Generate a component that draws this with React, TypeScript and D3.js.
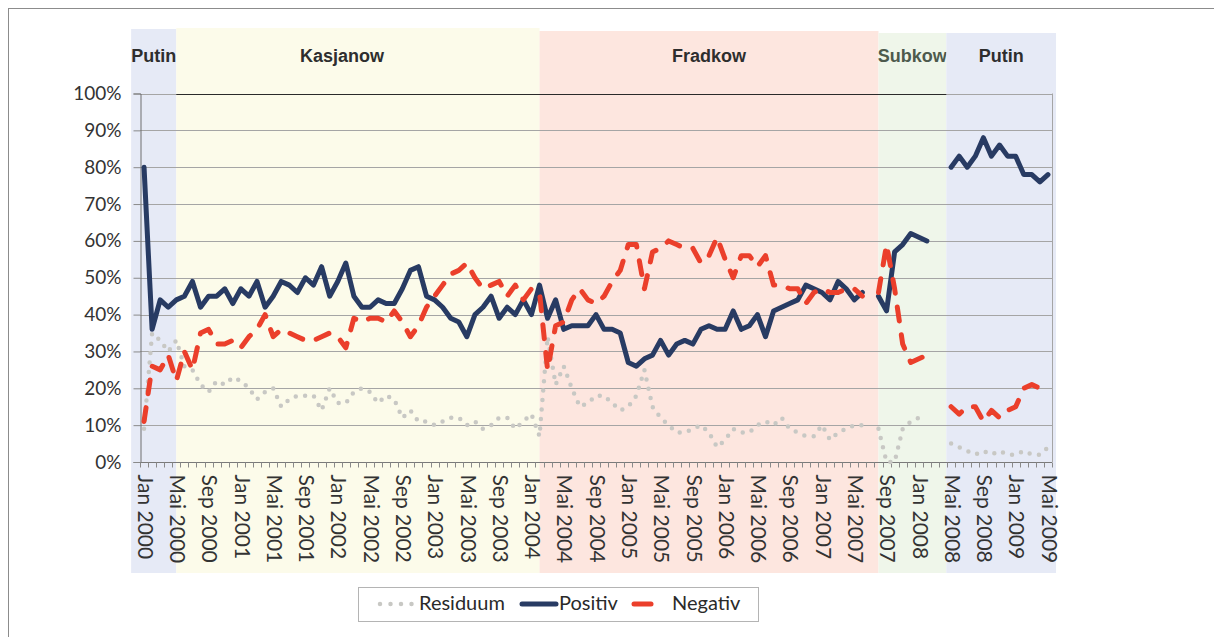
import React, { useEffect, useRef } from "react";
import * as d3 from "d3";

// months Jan 2000 .. Mai 2009
const monthNames = ["Jan", "Feb", "Mär", "Apr", "Mai", "Jun", "Jul", "Aug", "Sep", "Okt", "Nov", "Dez"];
const months: string[] = [];
for (let y = 2000; y <= 2009; y++) {
  for (let m = 0; m < 12; m++) {
    if (y === 2009 && m > 4) break;
    months.push(monthNames[m] + " " + y);
  }
}
const tickLabels = months.filter((_, i) => i % 4 === 0);

const yTicks = [0, 10, 20, 30, 40, 50, 60, 70, 80, 90, 100];

// government periods, edges in month units (0 = Jan 2000)
const periodNames = ["Putin", "Kasjanow", "Fradkow", "Subkow", "Putin"];
const periodEdges = [-1.6, 4, 49, 91, 99.4, 113];
const periodColors = ["#e6eaf6", "#fcfbea", "#fde6df", "#eff6ea", "#e6eaf6"];

const positiv: (number | null)[] = [
  80, 36, 44, 42, 44, 45, 49, 42, 45, 45, 47, 43,
  47, 45, 49, 42, 45, 49, 48, 46, 50, 48, 53, 45,
  49, 54, 45, 42, 42, 44, 43, 43, 47, 52, 53, 45,
  44, 42, 39, 38, 34, 40, 42, 45, 39, 42, 40, 44,
  40, 48, 39, 44, 36, 37, 37, 37, 40, 36, 36, 35,
  27, 26, 28, 29, 33, 29, 32, 33, 32, 36, 37, 36,
  36, 41, 36, 37, 40, 34, 41, 42, 43, 44, 48, 47,
  46, 44, 49, 47, 44, 46, null, 45, 41, 57, 59, 62,
  61, 60, null, null, 80, 83, 80, 83, 88, 83, 86, 83,
  83, 78, 78, 76, 78,
];

const negativ: (number | null)[] = [
  11, 26, 25, 29, 22, 30, 25, 35, 36, 32, 32, 33,
  31, 34, 36, 40, 34, 36, 35, 34, 33, 33, 34, 35,
  34, 31, 39, 38, 39, 39, 38, 41, 38, 34, 37, 42,
  45, 48, 51, 52, 54, 50, 47, 48, 49, 45, 48, 44,
  47, 46, 25, 37, 38, 44, 47, 44, 43, 45, 49, 52,
  59, 59, 47, 57, 58, 60, 59, 58, 58, 54, 56, 61,
  55, 50, 56, 56, 53, 56, 48, 48, 47, 47, 43, 46,
  47, 46, 46, 47, 47, 45, null, 46, 59, 47, 32, 27,
  28, 29, null, null, 15, 13, 15, 15, 11, 14, 12, 14,
  15, 20, 21, 20, 18,
];

const residuum: (number | null)[] = [
  9, 35, 33, 30, 33, 26, 25, 21, 19, 22, 21, 23,
  22, 20, 17, 19, 20, 15, 17, 18, 18, 18, 14, 20,
  16, 16, 19, 20, 19, 16, 18, 17, 12, 14, 11, 11,
  10, 11, 12, 12, 10, 11, 9, 10, 12, 12, 9, 11,
  13, 7, 34, 21, 26, 20, 15, 16, 18, 18, 16, 14,
  15, 18, 25, 15, 12, 10, 8, 8, 9, 10, 8, 4,
  6, 9, 8, 8, 10, 11, 10, 12, 9, 8, 7, 7,
  10, 6, 8, 9, 10, 10, null, 9, 0, 0, 9, 11,
  12, 12, null, null, 5, 4, 3, 2, 3, 2, 3, 2,
  2, 3, 2, 2, 4,
];

const font = "Lato, 'Open Sans', sans-serif";

export default function App() {
  const ref = useRef<SVGSVGElement>(null);

  useEffect(() => {
    const svg = d3.select(ref.current);
    svg.selectAll("*").remove();

    const left = 140, right = 1052, top = 93.5, bottom = 462;

    const x = d3.scaleBand<string>().domain(months).range([left, right]).padding(0);
    const bw = x.bandwidth();
    const cx = (i: number) => (x(months[0]) as number) + bw / 2 + i * bw;
    const y = d3.scaleLinear().domain([0, 100]).range([bottom, top]);

    // outer frame
    svg.append("rect")
      .attr("x", 8.5).attr("y", 8.5).attr("width", 1300).attr("height", 700)
      .attr("fill", "none").attr("stroke", "#8c8c8c");

    // period backgrounds
    const bandTop = [29, 28, 31, 33, 33];
    periodNames.forEach((name, k) => {
      const x0 = cx(periodEdges[k]);
      const x1 = cx(periodEdges[k + 1]);
      svg.append("rect")
        .attr("x", x0).attr("y", bandTop[k])
        .attr("width", x1 - x0).attr("height", 573 - bandTop[k])
        .attr("fill", periodColors[k]);
      svg.append("text")
        .attr("x", (x0 + x1) / 2 + (k === 1 ? -16 : 0))
        .attr("y", 57)
        .attr("text-anchor", "middle")
        .attr("dominant-baseline", "middle")
        .attr("font-family", "'Liberation Sans Narrow', 'Liberation Sans', sans-serif")
        .attr("font-weight", "bold")
        .attr("font-size", 18)
        .attr("fill", k === 3 ? "#4d5a4d" : "#2e2e2e")
        .text(name);
    });

    // gridlines
    svg.append("g")
      .selectAll("line")
      .data(yTicks)
      .join("line")
      .attr("x1", left).attr("x2", right)
      .attr("y1", d => Math.round(y(d)) + 0.5).attr("y2", d => Math.round(y(d)) + 0.5)
      .attr("stroke", "#a5a5a5").attr("stroke-width", 1.2);

    svg.append("line")
      .attr("x1", cx(periodEdges[1])).attr("x2", cx(periodEdges[4]))
      .attr("y1", Math.round(y(100)) + 0.5).attr("y2", Math.round(y(100)) + 0.5)
      .attr("stroke", "#2a2a2a").attr("stroke-width", 1.2);

    // right border
    svg.append("line")
      .attr("x1", right + 0.5).attr("x2", right + 0.5)
      .attr("y1", y(100)).attr("y2", bottom)
      .attr("stroke", "#a5a5a5");

    // y axis
    const yAxis = svg.append("g")
      .attr("transform", `translate(${left + 0.5},0)`)
      .call(d3.axisLeft(y).tickValues(yTicks).tickSize(7).tickPadding(12).tickFormat(d => d + "%"));
    yAxis.select(".domain").attr("stroke", "#6e6e6e");
    yAxis.selectAll(".tick line").attr("stroke", "#8a8a8a");
    yAxis.selectAll("text")
      .attr("font-family", font).attr("font-size", 19).attr("fill", "#333");

    // x axis with monthly minor ticks
    const xAxis = svg.append("g")
      .attr("transform", `translate(0,${Math.round(bottom) + 0.5})`);
    xAxis.append("line")
      .attr("x1", left).attr("x2", right)
      .attr("stroke", "#7a7a7a");
    xAxis.selectAll("line.tk")
      .data(d3.range(months.length + 1))
      .join("line")
      .attr("class", "tk")
      .attr("x1", i => Math.round(left + i * bw) + 0.5)
      .attr("x2", i => Math.round(left + i * bw) + 0.5)
      .attr("y1", 0).attr("y2", 5)
      .attr("stroke", "#8a8a8a");
    xAxis.selectAll("text")
      .data(tickLabels)
      .join("text")
      .attr("transform", d => `translate(${(x(d) as number) + bw / 2 - 1},12) rotate(90)`)
      .attr("dominant-baseline", "middle")
      .attr("font-family", font).attr("font-size", 21)
      .attr("fill", "#333")
      .text(d => d);

    // series
    const line = d3.line<number | null>()
      .defined(d => d !== null)
      .x((_, i) => cx(i))
      .y(d => y(d as number));

    svg.append("path")
      .attr("d", line(residuum))
      .attr("fill", "none").attr("stroke", "#c8c8c4")
      .attr("stroke-width", 4.5).attr("stroke-linecap", "round")
      .attr("stroke-dasharray", "0 9.5");

    svg.append("path")
      .attr("d", line(positiv))
      .attr("fill", "none").attr("stroke", "#283b63")
      .attr("stroke-width", 5).attr("stroke-linejoin", "round").attr("stroke-linecap", "round");

    svg.append("path")
      .attr("d", line(negativ))
      .attr("fill", "none").attr("stroke", "#eb3f2b")
      .attr("stroke-width", 5).attr("stroke-linecap", "round").attr("stroke-linejoin", "round")
      .attr("stroke-dasharray", "14 14");

    // legend
    const lg = svg.append("g");
    lg.append("rect")
      .attr("x", 358.5).attr("y", 587.5).attr("width", 400).attr("height", 34)
      .attr("fill", "#fff").attr("stroke", "#b4b4b4");
    lg.append("line")
      .attr("x1", 380).attr("x2", 414).attr("y1", 604).attr("y2", 604)
      .attr("stroke", "#c8c8c4").attr("stroke-width", 4.5)
      .attr("stroke-linecap", "round").attr("stroke-dasharray", "0 10.5");
    lg.append("line")
      .attr("x1", 522).attr("x2", 556).attr("y1", 604).attr("y2", 604)
      .attr("stroke", "#283b63").attr("stroke-width", 5).attr("stroke-linecap", "round");
    lg.append("line")
      .attr("x1", 634).attr("x2", 651).attr("y1", 604).attr("y2", 604)
      .attr("stroke", "#eb3f2b").attr("stroke-width", 5).attr("stroke-linecap", "round");
    const legendText = [["Residuum", 419], ["Positiv", 559], ["Negativ", 672]] as [string, number][];
    lg.selectAll("text.lt")
      .data(legendText)
      .join("text")
      .attr("class", "lt")
      .attr("x", d => d[1]).attr("y", 605)
      .attr("dominant-baseline", "middle")
      .attr("font-family", font).attr("font-size", 20)
      .attr("fill", "#2a2a2a")
      .text(d => d[0]);
  }, []);

  return (
    <svg
      ref={ref}
      width={1214}
      height={637}
      style={{ position: "absolute", left: 0, top: 0, background: "#fff" }}
    />
  );
}
